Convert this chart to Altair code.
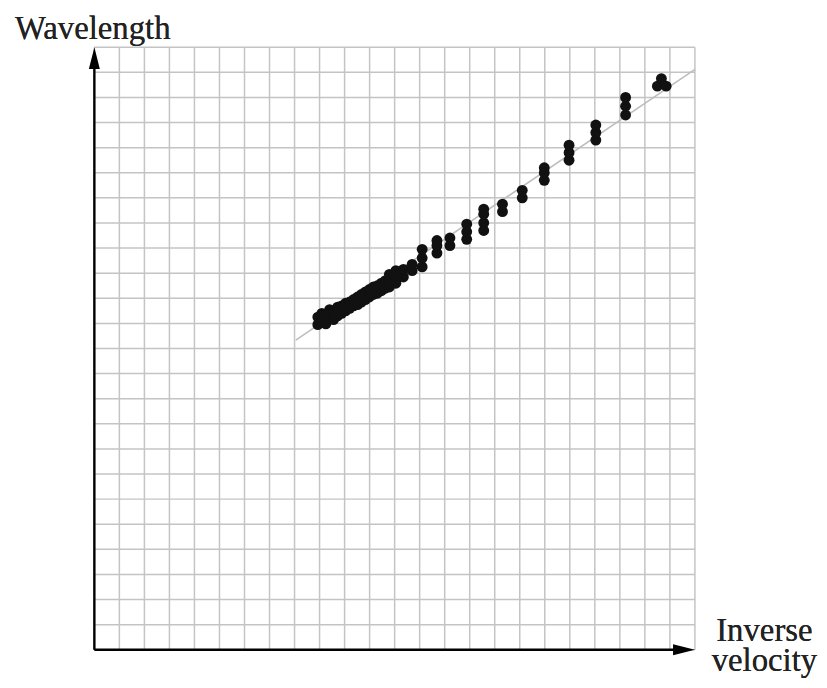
import altair as alt
import pandas as pd

# measured points (grid units)
point_x = [8.93, 8.93, 9.09, 9.09, 9.25, 9.25, 9.40, 9.40, 9.56, 9.56,
           9.72, 9.72, 9.88, 9.88, 10.04, 10.04, 10.20, 10.20, 10.36, 10.36,
           10.52, 10.52, 10.67, 10.67, 10.83, 10.83, 10.99, 10.99, 11.15, 11.15,
           11.31, 11.31, 11.47, 11.47, 11.63, 11.63, 11.79, 11.79, 11.79,
           12.05, 12.05, 12.05, 12.35, 12.35, 12.70, 12.70,
           13.10, 13.10, 13.10, 13.69, 13.69, 13.69, 14.21, 14.21,
           14.88, 14.88, 14.88, 15.56, 15.56, 15.56, 15.56, 16.31, 16.31,
           17.10, 17.10, 17.98, 17.98, 17.98, 18.97, 18.97, 18.97,
           20.04, 20.04, 20.04, 21.23, 21.23, 21.23, 22.50, 22.85, 22.66]
point_y = [12.95, 13.25, 13.10, 13.40, 12.98, 13.30, 13.20, 13.55, 13.15, 13.45,
           13.30, 13.65, 13.40, 13.70, 13.50, 13.80, 13.60, 13.85, 13.70, 13.95,
           13.75, 14.05, 13.85, 14.15, 13.95, 14.25, 14.05, 14.35, 14.15, 14.45,
           14.20, 14.50, 14.30, 14.60, 14.40, 14.70, 14.45, 14.75, 14.95,
           14.60, 14.90, 15.10, 14.85, 15.15, 15.10, 15.35,
           15.25, 15.60, 15.95, 15.80, 16.10, 16.30, 16.10, 16.40,
           16.35, 16.65, 16.95, 16.70, 17.00, 17.35, 17.55, 17.45, 17.75,
           18.00, 18.30, 18.70, 19.00, 19.20, 19.50, 19.80, 20.10,
           20.30, 20.60, 20.90, 21.30, 21.65, 22.00, 22.45, 22.45, 22.75]

# fitted line endpoints
fit_x = [8.05, 24.0]
fit_y = [12.33, 23.12]

grid_values = list(range(0, 25))
arrow_x = [0, 24]
arrow_y = [24, 0]
arrow_shape = ["M0,0 L0.55,2.2 L-0.55,2.2 Z", "M0,0 L-2.2,-0.55 L-2.2,0.55 Z"]

pts = pd.DataFrame({"x": point_x, "y": point_y})
fit = pd.DataFrame({"x": fit_x, "y": fit_y})
arrows = pd.DataFrame({"x": arrow_x, "y": arrow_y, "shape": arrow_shape})
grid = pd.DataFrame({"g": grid_values, "lo": [0] * len(grid_values),
                     "hi": [24] * len(grid_values)})

xs = alt.Scale(domain=[0, 24], nice=False, zero=False)
ys = alt.Scale(domain=[0, 24], nice=False, zero=False)

GRID = "#c4c4c4"
vgrid = alt.Chart(grid).mark_rule(color=GRID, strokeWidth=1.5).encode(
    x=alt.X("g:Q", scale=xs, axis=None),
    y=alt.Y("lo:Q", scale=ys, axis=None), y2="hi:Q")
hgrid = alt.Chart(grid).mark_rule(color=GRID, strokeWidth=1.5).encode(
    y=alt.Y("g:Q", scale=ys, axis=None),
    x=alt.X("lo:Q", scale=xs, axis=None), x2="hi:Q")

axes_df = pd.DataFrame({"x": [0, 0], "y": [0, 0], "x2": [0, 23.3], "y2": [23.3, 0]})
axis_lines = alt.Chart(axes_df).mark_rule(color="#000000", strokeWidth=2.4).encode(
    x=alt.X("x:Q", scale=xs, axis=None), y=alt.Y("y:Q", scale=ys, axis=None),
    x2="x2:Q", y2="y2:Q")

X = alt.X("x:Q", scale=xs, axis=None)
Y = alt.Y("y:Q", scale=ys, axis=None)

line = alt.Chart(fit).mark_line(color="#bdbdbd", strokeWidth=1.6).encode(x=X, y=Y)

points = alt.Chart(pts).mark_circle(color="#111111", opacity=1, size=120).encode(x=X, y=Y)

arrow_marks = alt.Chart(arrows).mark_point(filled=True, color="#000000", opacity=1,
                                           size=400, strokeWidth=0).encode(
    x=X, y=Y, shape=alt.Shape("shape:N", scale=None))

font = "Liberation Serif"
t_wave = alt.Chart(fit).mark_text(text="Wavelength", font=font, fontSize=33,
                                  align="left", baseline="alphabetic",
                                  color="#222222").encode(
    x=alt.value(-80), y=alt.value(-8))
t_inv = alt.Chart(fit).mark_text(text="Inverse", font=font, fontSize=33,
                                 align="center", baseline="alphabetic",
                                 color="#222222").encode(
    x=alt.value(675), y=alt.value(598))
t_vel = alt.Chart(fit).mark_text(text="velocity", font=font, fontSize=33,
                                 align="center", baseline="alphabetic",
                                 color="#222222").encode(
    x=alt.value(675), y=alt.value(628))

chart = alt.layer(vgrid, hgrid, line, points, axis_lines, arrow_marks,
                  t_wave, t_inv, t_vel).properties(
    width=605, height=607,
    autosize=alt.AutoSizeParams(type="none"),
    padding={"left": 87, "top": 37, "right": 125, "bottom": 35},
    background="white",
).configure_view(strokeWidth=0)

chart.save("out.html", embed_options={"renderer": "svg", "actions": False})
